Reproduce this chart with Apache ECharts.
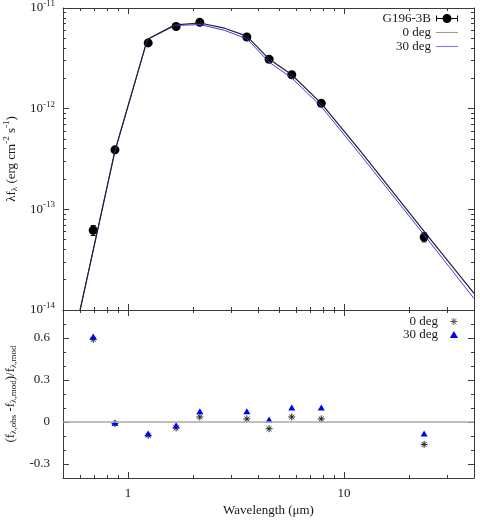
<!DOCTYPE html>
<html>
<head>
<meta charset="utf-8">
<script src="https://cdn.jsdelivr.net/npm/echarts@6/dist/echarts.min.js"></script>
<style>
  html, body { margin: 0; padding: 0; background: #fff; }
  #chart { width: 480px; height: 520px; }
</style>
</head>
<body>
<div id="chart"></div>
<script>
// 观测数据 (G196-3B)
const obsWave = [0.69, 0.87, 1.24, 1.67, 2.15, 3.55, 4.5, 5.73, 7.85, 23.5];
const obsFlux = [6.2e-14, 3.9e-13, 4.5e-12, 6.55e-12, 7.2e-12, 5.15e-12, 3.1e-12, 2.17e-12, 1.13e-12, 5.3e-14];
const obsErr = [0.7e-14, 0.1e-13, 0.15e-12, 0.2e-12, 0.2e-12, 0.12e-12, 0.07e-12, 0.05e-12, 0.03e-12, 0.55e-14];

// 模型曲线
const modelWave = [0.6, 0.87, 1.23, 1.65, 2.15, 2.8, 3.55, 4.5, 5.73, 7.85, 11.9, 23.7, 40];
const model0 = [1.0e-14, 3.8e-13, 4.9e-12, 6.8e-12, 7.1e-12, 6.3e-12, 5.25e-12, 3.11e-12, 2.17e-12, 1.13e-12, 3.8e-13, 5.9e-14, 1.46e-14];
const model30 = [1.0e-14, 3.78e-13, 4.87e-12, 6.7e-12, 6.85e-12, 6.0e-12, 4.95e-12, 2.9e-12, 2.02e-12, 1.05e-12, 3.5e-13, 5.45e-14, 1.3e-14];

// 残差
const res0 = [0.59, -0.01, -0.095, -0.043, 0.036, 0.022, -0.048, 0.036, 0.022, -0.16];
const res30 = [0.61, -0.005, -0.083, -0.024, 0.077, 0.077, 0.017, 0.103, 0.103, -0.083];

// 刻度
const xMajor = [1, 10];
const xMinor = [0.5, 0.6, 0.7, 0.8, 0.9, 2, 3, 4, 5, 6, 7, 8, 9, 20, 30, 40];
const yMajor = [1e-14, 1e-13, 1e-12, 1e-11];
const yMinor = [2e-14, 3e-14, 4e-14, 5e-14, 6e-14, 7e-14, 8e-14, 9e-14,
  2e-13, 3e-13, 4e-13, 5e-13, 6e-13, 7e-13, 8e-13, 9e-13,
  2e-12, 3e-12, 4e-12, 5e-12, 6e-12, 7e-12, 8e-12, 9e-12];
const rMajor = [-0.3, 0, 0.3, 0.6];
const rMinor = [-0.4, -0.2, -0.1, 0.1, 0.2, 0.4, 0.5, 0.7, 0.8];

const FONT = 'Liberation Serif';
const TXT = '#1a1a1a';
const LINE = '#3a3a3a';

const chart = echarts.init(document.getElementById('chart'));

// 只画刻度的辅助轴 (对数轴的刻度放在 log10 空间里画)
function tickAxis(grid, pos, min, max, ticks, len, line, isLog) {
  const f = isLog ? Math.log10 : (v => v);
  return {
    type: 'value', gridIndex: grid, position: pos,
    min: f(min), max: f(max),
    axisLine: { show: line, onZero: false, lineStyle: { color: LINE, width: 1 } },
    axisTick: { show: true, inside: true, length: len, customValues: ticks.map(f), lineStyle: { color: LINE, width: 1 } },
    axisLabel: { show: false },
    splitLine: { show: false }
  };
}

function mainAxis(grid, pos, type, min, max, labels, margin, formatter, rich, extra) {
  const a = {
    type: type, gridIndex: grid, position: pos, min: min, max: max,
    axisLine: { show: true, onZero: false, lineStyle: { color: LINE, width: 1 } },
    axisTick: { show: false },
    splitLine: { show: false },
    axisLabel: labels ? {
      show: true, customValues: labels, margin: margin,
      showMinLabel: true, showMaxLabel: true,
      fontFamily: FONT, fontSize: 13, color: TXT,
      formatter: formatter, rich: rich
    } : { show: false }
  };
  if (type === 'log') a.logBase = 10;
  return Object.assign(a, extra || {});
}

const xAxes = [];
const yAxes = [];
[0, 1].forEach(g => {
  xAxes.push(mainAxis(g, 'bottom', 'log', 0.5, 40, g === 1 ? xMajor : null, 9, v => String(v), null,
    g === 1 ? {
      name: 'Wavelength (μm)', nameLocation: 'middle', nameGap: 26,
      nameTextStyle: { fontFamily: FONT, fontSize: 13, color: TXT }
    } : {}));
  xAxes.push(tickAxis(g, 'bottom', 0.5, 40, xMinor, 3, false, true));
  xAxes.push(tickAxis(g, 'bottom', 0.5, 40, xMajor, 6, false, true));
  xAxes.push(tickAxis(g, 'top', 0.5, 40, xMinor, 3, true, true));
  xAxes.push(tickAxis(g, 'top', 0.5, 40, xMajor, 6, false, true));
});

// 上图 y 轴
yAxes.push(mainAxis(0, 'left', 'log', 1e-14, 1e-11, yMajor, 8,
  v => '{b|10}{sup|' + Math.round(Math.log10(v)) + '}',
  {
    sup: { fontFamily: FONT, fontSize: 9, color: TXT, padding: [0, 0, 9, 0] },
    b: { fontFamily: FONT, fontSize: 13, color: TXT }
  },
  {
    name: '{t|λf}{sub|λ}{t| (erg cm}{sup|-2}{t| s}{sup|-1}{t|)}',
    nameLocation: 'middle', nameGap: 41, nameRotate: 90,
    nameTextStyle: {
      fontFamily: FONT, fontSize: 13, color: TXT,
      rich: {
        t: { fontFamily: FONT, fontSize: 13, color: TXT },
        sub: { fontFamily: FONT, fontSize: 9, color: TXT, padding: [7, 0, 0, 0] },
        sup: { fontFamily: FONT, fontSize: 9, color: TXT, padding: [0, 0, 9, 0] }
      }
    }
  }));
yAxes.push(tickAxis(0, 'left', 1e-14, 1e-11, yMinor, 3, false, true));
yAxes.push(tickAxis(0, 'left', 1e-14, 1e-11, yMajor, 6, false, true));
yAxes.push(tickAxis(0, 'right', 1e-14, 1e-11, yMinor, 3, true, true));
yAxes.push(tickAxis(0, 'right', 1e-14, 1e-11, yMajor, 6, false, true));

// 下图 y 轴
yAxes.push(mainAxis(1, 'left', 'value', -0.4, 0.8, rMajor, 13, v => String(v), null, {
  name: '{t|(f}{sub|λ,obs}{t| -f}{sub|λ,mod}{t|)/f}{sub|λ,mod}',
  nameLocation: 'middle', nameGap: 41, nameRotate: 90,
  nameTextStyle: {
    fontFamily: FONT, fontSize: 13, color: TXT,
    rich: {
      t: { fontFamily: FONT, fontSize: 13, color: TXT },
      sub: { fontFamily: FONT, fontSize: 9, color: TXT, padding: [7, 0, 0, 0] }
    }
  }
}));
yAxes.push(tickAxis(1, 'left', -0.4, 0.8, rMinor, 3, false, false));
yAxes.push(tickAxis(1, 'left', -0.4, 0.8, rMajor, 6, false, false));
yAxes.push(tickAxis(1, 'right', -0.4, 0.8, rMinor, 3, true, false));
yAxes.push(tickAxis(1, 'right', -0.4, 0.8, rMajor, 6, false, false));

const errIcon = 'path://M0,4L22,4L22,5L0,5ZM0,1.5L1,1.5L1,7.5L0,7.5ZM21,1.5L22,1.5L22,7.5L21,7.5Z' +
  'M15.5,4.5A4.5,4.5 0 1 1 6.5,4.5A4.5,4.5 0 1 1 15.5,4.5Z';
const lineIcon = 'path://M0,0L20,0L20,1L0,1Z';
const starIcon = 'path://M0,5L10,5M5,0L5,10M1.5,1.5L8.5,8.5M8.5,1.5L1.5,8.5';
const triIcon = 'path://M3.5,0L7,6L0,6Z';
const resNames = { res0: '0 deg', res30: '30 deg' };

const option = {
  animation: false,
  backgroundColor: '#fff',
  grid: [
    { left: 63, right: 6, top: 8, height: 302, outerBoundsMode: 'none' },
    { left: 63, right: 6, top: 310, height: 168, outerBoundsMode: 'none' }
  ],
  legend: [
    {
      orient: 'vertical', align: 'right', right: 22, top: 12, padding: 0,
      itemWidth: 22, itemHeight: 9, itemGap: 1, selectedMode: false,
      textStyle: { fontFamily: FONT, fontSize: 13, color: TXT },
      data: [
        { name: 'G196-3B', icon: errIcon, itemStyle: { color: '#000', opacity: 1 } },
        { name: '0 deg', icon: lineIcon, itemStyle: { color: '#9a9a9a' } },
        { name: '30 deg', icon: lineIcon, itemStyle: { color: '#7c7cff' } }
      ]
    },
    {
      orient: 'vertical', align: 'right', right: 22, top: 315, padding: 0,
      itemWidth: 22, itemHeight: 7, itemGap: 0, selectedMode: false,
      textStyle: { fontFamily: FONT, fontSize: 13, color: TXT },
      formatter: n => resNames[n],
      data: [
        { name: 'res0', icon: starIcon, itemStyle: { color: 'rgba(0,0,0,0)', borderColor: '#555', borderWidth: 1 } },
        { name: 'res30', icon: triIcon, itemStyle: { color: '#0000ee', opacity: 1 } }
      ]
    }
  ],
  xAxis: xAxes,
  yAxis: yAxes,
  series: [
    {
      name: '30 deg', type: 'line', xAxisIndex: 0, yAxisIndex: 0,
      symbol: 'none', clip: true,
      itemStyle: { color: '#3a3aff' },
      lineStyle: { color: '#3a3aff', width: 1 },
      data: modelWave.map((w, i) => [w, model30[i]])
    },
    {
      name: '0 deg', type: 'line', xAxisIndex: 0, yAxisIndex: 0,
      symbol: 'none', clip: true,
      itemStyle: { color: '#222' },
      lineStyle: { color: '#222', width: 1.2 },
      data: modelWave.map((w, i) => [w, model0[i]])
    },
    {
      name: 'err', type: 'custom', xAxisIndex: 0, yAxisIndex: 0,
      data: obsWave.map((w, i) => [w, obsFlux[i] - obsErr[i], obsFlux[i] + obsErr[i]]),
      encode: { x: 0, y: [1, 2] },
      renderItem: function (params, api) {
        const lo = api.coord([api.value(0), api.value(1)]);
        const hi = api.coord([api.value(0), api.value(2)]);
        const c = 2.5;
        const st = { stroke: '#000', lineWidth: 1 };
        return {
          type: 'group',
          children: [
            { type: 'line', shape: { x1: lo[0], y1: lo[1], x2: hi[0], y2: hi[1] }, style: st },
            { type: 'line', shape: { x1: lo[0] - c, y1: lo[1], x2: lo[0] + c, y2: lo[1] }, style: st },
            { type: 'line', shape: { x1: hi[0] - c, y1: hi[1], x2: hi[0] + c, y2: hi[1] }, style: st }
          ]
        };
      }
    },
    {
      name: 'G196-3B', type: 'scatter', xAxisIndex: 0, yAxisIndex: 0,
      symbol: 'circle', symbolSize: 9,
      itemStyle: { color: '#000', opacity: 1 },
      data: obsWave.map((w, i) => [w, obsFlux[i]])
    },
    {
      name: 'res0', type: 'scatter', xAxisIndex: 5, yAxisIndex: 5,
      symbol: starIcon, symbolSize: 7,
      itemStyle: { color: 'rgba(0,0,0,0)', borderColor: '#222', borderWidth: 1, opacity: 1 },
      data: obsWave.map((w, i) => [w, res0[i]]),
      markLine: {
        silent: true, symbol: 'none', label: { show: false },
        lineStyle: { color: '#aaa', width: 1.5, type: 'solid' },
        data: [{ yAxis: 0 }]
      }
    },
    {
      name: 'res30', type: 'scatter', xAxisIndex: 5, yAxisIndex: 5,
      symbol: 'triangle', symbolSize: [7, 6],
      itemStyle: { color: '#0000ee', opacity: 1 },
      data: obsWave.map((w, i) => [w, res30[i]])
    }
  ]
};

chart.setOption(option);
window.addEventListener('resize', () => {
  chart.resize();
});
</script>
</body>
</html>
